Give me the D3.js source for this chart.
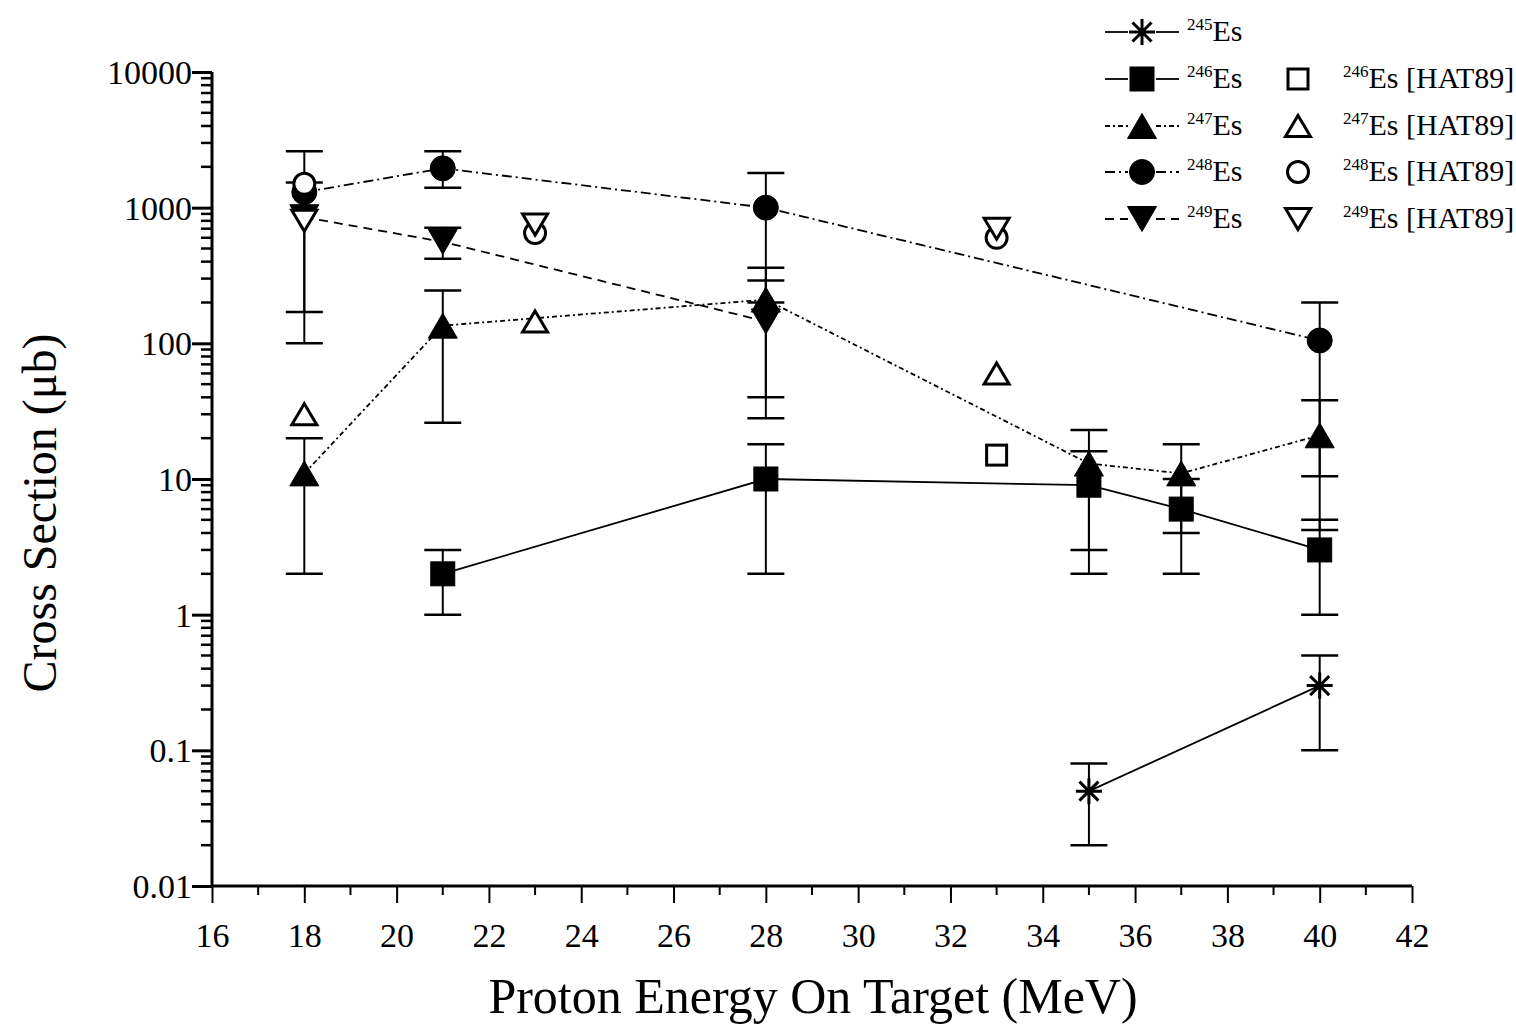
<!DOCTYPE html>
<html><head><meta charset="utf-8">
<script src="https://cdn.jsdelivr.net/npm/d3@7"></script>
<style>body{margin:0;background:#fff}svg{display:block}svg text{font-family:"Liberation Serif","Times New Roman",serif !important;fill:#000}</style>
</head><body>
<svg id="c" width="1516" height="1027"></svg>
<script>
// ---- data ----
const xTicks = [16,18,20,22,24,26,28,30,32,34,36,38,40,42];
const yTickValues = [0.01,0.1,1,10,100,1000,10000];
const yTickLabels = ["0.01","0.1","1","10","100","1000","10000"];

const es245X = [35, 40];
const es245Y = [0.05, 0.3];
const es245Lo = [0.02, 0.1];
const es245Hi = [0.08, 0.5];

const es246X = [21, 28, 35, 37, 40];
const es246Y = [2, 10, 9, 6, 3];
const es246Lo = [1, 2, 2, 2, 1];
const es246Hi = [3, 18, 16, 10, 5];

const es247X = [18, 21, 28, 35, 37, 40];
const es247Y = [11, 135, 210, 13, 11, 21];
const es247Lo = [2, 26, 28, 3, 4, 10.5];
const es247Hi = [20, 245, 360, 23, 18, 38];

const es248X = [18, 21, 28, 40];
const es248Y = [1300, 1950, 1000, 105];
const es248Lo = [100, 1400, 200, 4.2];
const es248Hi = [2600, 2600, 1800, 200];

const es249X = [18, 21, 28];
const es249Y = [850, 560, 145];
const es249Lo = [170, 420, 40];
const es249Hi = [1530, 710, 290];

const hat246X = [33];
const hat246Y = [15];
const hat247X = [18, 23, 33];
const hat247Y = [30, 145, 60];
const hat248X = [18, 23, 33];
const hat248Y = [1500, 650, 600];
const hat249X = [18, 23, 33];
const hat249Y = [800, 750, 700];

// ---- chart ----
const FONT = '"Liberation Serif","Times New Roman",serif';
const svg = d3.select("#c");
const x = d3.scaleLinear().domain([16,42]).range([212,1412]);
const y = d3.scaleLog().domain([0.01,10000]).range([886,72]);

// axes
const gx = svg.append("g").attr("transform","translate(0,886)");
gx.call(d3.axisBottom(x).tickValues(xTicks).tickSize(17).tickFormat(d3.format("d")))
  .attr("font-family",FONT)
  .call(g=>g.select(".domain").attr("stroke-width",3).attr("d","M212,0H1412"))
  .call(g=>g.selectAll(".tick line").attr("stroke-width",2))
  .call(g=>g.selectAll(".tick text").attr("font-size",34).style("font-family",FONT).attr("dy",null).attr("y",61));
const minorX = d3.range(17,42,2);
gx.selectAll(".minor").data(minorX).join("line").attr("class","minor")
  .attr("x1",d=>x(d)).attr("x2",d=>x(d)).attr("y1",0).attr("y2",9).attr("stroke","#000").attr("stroke-width",2);

const gy = svg.append("g").attr("transform","translate(212,0)");
gy.call(d3.axisLeft(y).tickValues(yTickValues).tickSize(20).tickFormat((d,i)=>yTickLabels[i]))
  .attr("font-family",FONT)
  .call(g=>g.select(".domain").attr("stroke-width",3).attr("d","M0,72V886"))
  .call(g=>g.selectAll(".tick line").attr("stroke-width",3))
  .call(g=>g.selectAll(".tick text").attr("font-size",34).style("font-family",FONT).attr("x",-20).attr("dy","0.34em"));
const minorY = [];
for (let e=-2;e<4;e++) for (let m=2;m<10;m++) minorY.push(m*Math.pow(10,e));
gy.selectAll(".minor").data(minorY).join("line").attr("class","minor")
  .attr("x1",0).attr("x2",-11).attr("y1",d=>y(d)).attr("y2",d=>y(d)).attr("stroke","#000").attr("stroke-width",2.5);

// titles
svg.append("text").attr("x",813).attr("y",1013).attr("text-anchor","middle").attr("font-size",50).style("font-family",FONT)
  .text("Proton Energy On Target (MeV)");
svg.append("text").attr("transform","translate(56,513) rotate(-90)").attr("text-anchor","middle").attr("font-size",48).style("font-family",FONT)
  .text("Cross Section (μb)");

// marker drawing
function marker(g, type, cx, cy, open) {
  const fill = open ? "#fff" : "#000";
  const sw = open ? 3 : 1;
  if (type==="square") {
    const s = open ? 20 : 24;
    g.append("rect").attr("x",cx-s/2).attr("y",cy-s/2).attr("width",s).attr("height",s)
      .attr("fill",fill).attr("stroke","#000").attr("stroke-width",sw);
  } else if (type==="circle") {
    g.append("circle").attr("cx",cx).attr("cy",cy).attr("r",open?10.5:12.5)
      .attr("fill",fill).attr("stroke","#000").attr("stroke-width",sw);
  } else if (type==="up" || type==="down") {
    const w = open?25:29, h = open?21:25;
    const s = type==="up" ? 1 : -1;
    g.append("path").attr("d",`M${cx},${cy-s*h/2}L${cx+w/2},${cy+s*h/2}L${cx-w/2},${cy+s*h/2}Z`)
      .attr("fill",fill).attr("stroke","#000").attr("stroke-width",sw).attr("stroke-linejoin","miter");
  } else if (type==="star") {
    const r = 13, d = 9.5;
    g.append("path").attr("d",`M${cx},${cy-r}V${cy+r}M${cx-r},${cy}H${cx+r}M${cx-d},${cy-d}L${cx+d},${cy+d}M${cx-d},${cy+d}L${cx+d},${cy-d}`)
      .attr("stroke","#000").attr("stroke-width",3).attr("fill","none");
  }
}

const series = [
  {xs:es245X, ys:es245Y, lo:es245Lo, hi:es245Hi, type:"star", dash:null},
  {xs:es246X, ys:es246Y, lo:es246Lo, hi:es246Hi, type:"square", dash:null},
  {xs:es247X, ys:es247Y, lo:es247Lo, hi:es247Hi, type:"up", dash:"5,3,2,3"},
  {xs:es248X, ys:es248Y, lo:es248Lo, hi:es248Hi, type:"circle", dash:"10,4,2,4"},
  {xs:es249X, ys:es249Y, lo:es249Lo, hi:es249Hi, type:"down", dash:"9,6"}
];
const hats = [
  {xs:hat246X, ys:hat246Y, type:"square"},
  {xs:hat247X, ys:hat247Y, type:"up"},
  {xs:hat248X, ys:hat248Y, type:"circle"},
  {xs:hat249X, ys:hat249Y, type:"down"}
];

const gErr = svg.append("g"), gLine = svg.append("g"), gMark = svg.append("g");
const cap = 18.5;
series.forEach(s=>{
  s.xs.forEach((xv,i)=>{
    const px = x(xv);
    gErr.append("line").attr("x1",px).attr("x2",px).attr("y1",y(s.lo[i])).attr("y2",y(s.hi[i])).attr("stroke","#000").attr("stroke-width",2);
    [s.lo[i], s.hi[i]].forEach(v=>{
      gErr.append("line").attr("x1",px-cap).attr("x2",px+cap).attr("y1",y(v)).attr("y2",y(v)).attr("stroke","#000").attr("stroke-width",2.5);
    });
  });
  const line = d3.line().x(d=>x(d[0])).y(d=>y(d[1]));
  gLine.append("path").attr("d",line(s.xs.map((v,i)=>[v,s.ys[i]])))
    .attr("fill","none").attr("stroke","#000").attr("stroke-width",1.8)
    .attr("stroke-dasharray",s.dash);
});
series.forEach(s=>{ s.xs.forEach((xv,i)=>marker(gMark, s.type, x(xv), y(s.ys[i]), false)); });
hats.forEach(h=>{ h.xs.forEach((xv,i)=>marker(gMark, h.type, x(xv), y(h.ys[i]), true)); });

// legend
const legNames = ["245","246","247","248","249"];
const legRows = [32, 79, 126, 172, 219];
const gL = svg.append("g");
series.forEach((s,i)=>{
  const cy = legRows[i];
  gL.append("line").attr("x1",1105).attr("x2",1128).attr("y1",cy).attr("y2",cy).attr("stroke","#000").attr("stroke-width",1.8).attr("stroke-dasharray",s.dash);
  gL.append("line").attr("x1",1156).attr("x2",1179).attr("y1",cy).attr("y2",cy).attr("stroke","#000").attr("stroke-width",1.8).attr("stroke-dasharray",s.dash);
  marker(gL, s.type, 1142, cy, false);
  const t = gL.append("text").attr("x",1187).attr("y",cy+9).style("font-family",FONT);
  t.append("tspan").attr("font-size",17).attr("dy",-11).text(legNames[i]);
  t.append("tspan").attr("font-size",30).attr("dy",11).text("Es");
});
hats.forEach((h,i)=>{
  const cy = legRows[i+1];
  marker(gL, h.type, 1298, cy, true);
  const t = gL.append("text").attr("x",1343).attr("y",cy+9).style("font-family",FONT);
  t.append("tspan").attr("font-size",17).attr("dy",-11).text(legNames[i+1]);
  t.append("tspan").attr("font-size",30).attr("dy",11).text("Es [HAT89]");
});
</script>
</body></html>
